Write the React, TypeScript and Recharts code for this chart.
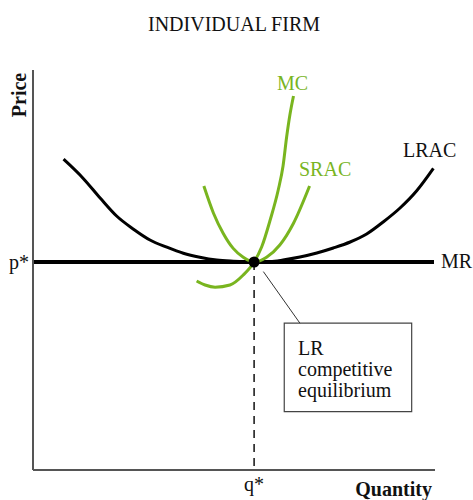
import React from "react";
import { LineChart, Line, XAxis, YAxis, ReferenceDot, ReferenceLine, ReferenceArea } from "recharts";

// Equilibrium (quantity, price)
const qStar = 55;
const pStar = 52;

const lracCurve = [
  { q: 7.6, p: 77.7 }, { q: 12.5, p: 72.9 }, { q: 16.7, p: 68 }, { q: 20.8, p: 63.5 },
  { q: 25, p: 60.2 }, { q: 29.1, p: 57.5 }, { q: 33.3, p: 55.7 }, { q: 37.4, p: 54.2 },
  { q: 41.5, p: 53.2 }, { q: 45.7, p: 52.5 }, { q: 49.8, p: 52.2 }, { q: 55, p: 52 },
  { q: 59, p: 52.1 }, { q: 62.2, p: 52.5 }, { q: 66.4, p: 53.25 }, { q: 70.6, p: 54.25 },
  { q: 74.7, p: 55.5 }, { q: 78.9, p: 57 }, { q: 83, p: 59 }, { q: 87.1, p: 62 },
  { q: 91.3, p: 65.5 }, { q: 95.4, p: 69.75 }, { q: 99.6, p: 75.4 },
];

const mcCurve = [
  { q: 40.7, p: 47.25 }, { q: 42.8, p: 46.25 }, { q: 45.3, p: 45.7 }, { q: 49, p: 46.25 },
  { q: 52.3, p: 48.75 }, { q: 55, p: 52 }, { q: 56.9, p: 55.8 }, { q: 59, p: 62.5 },
  { q: 61, p: 70 }, { q: 62.2, p: 76 }, { q: 63.1, p: 83.3 }, { q: 63.9, p: 88.75 },
  { q: 64.8, p: 93.5 },
];

const sracCurve = [
  { q: 42.5, p: 71 }, { q: 44.9, p: 64.2 }, { q: 47.3, p: 59.2 }, { q: 49.8, p: 55.4 },
  { q: 52.3, p: 53.2 }, { q: 55, p: 52 }, { q: 58.1, p: 53.2 }, { q: 61.4, p: 56.25 },
  { q: 64.8, p: 61.7 }, { q: 68.8, p: 71 },
];

const mrLine = [
  { q: 0, p: pStar },
  { q: 99.75, p: pStar },
];

const dropLine = [
  { q: qStar, p: pStar },
  { q: qStar, p: 0 },
];

const boxLines = ["LR", "competitive", "equilibrium"];
const titleText = "INDIVIDUAL FIRM";

const GREEN = "#79b51f";
const FONT = "Liberation Serif";

export default function App() {
  return (
    <div style={{ position: "absolute", left: 0, top: 0, width: 473, height: 500, background: "#fff" }}>
      <div style={{ position: "absolute", left: 0, top: 0 }}>
        <LineChart
          width={473}
          height={500}
          margin={{ top: 70, right: 38, bottom: 29, left: 32 }}
          style={{ fontFamily: FONT }}
        >
          <XAxis
            type="number"
            dataKey="q"
            domain={[0, 100]}
            ticks={[qStar]}
            tickFormatter={() => "q*"}
            tickLine={false}
            tickSize={0}
            tickMargin={7}
            height={1}
            axisLine={{ stroke: "#555", strokeWidth: 2 }}
            tick={{ fill: "#111", fontSize: 20, fontFamily: FONT }}
            allowDataOverflow
          />
          <YAxis
            type="number"
            dataKey="p"
            domain={[0, 100]}
            ticks={[pStar]}
            tickFormatter={() => "p*"}
            tickLine={false}
            tickSize={0}
            tickMargin={4}
            width={1}
            axisLine={{ stroke: "#555", strokeWidth: 2 }}
            tick={{ fill: "#111", fontSize: 20, fontFamily: FONT }}
            allowDataOverflow
          />
          <Line data={dropLine} dataKey="p" type="linear" stroke="#111" strokeWidth={1.5} strokeDasharray="8 6" dot={false} isAnimationActive={false} />
          <Line data={lracCurve} dataKey="p" type="monotone" stroke="#000" strokeWidth={3} dot={false} isAnimationActive={false} />
          <Line data={mrLine} dataKey="p" type="linear" stroke="#000" strokeWidth={4} dot={false} isAnimationActive={false} />
          <Line data={sracCurve} dataKey="p" type="monotone" stroke={GREEN} strokeWidth={3} dot={false} isAnimationActive={false} />
          <Line data={mcCurve} dataKey="p" type="monotone" stroke={GREEN} strokeWidth={3} dot={false} isAnimationActive={false} />
          <ReferenceLine segment={[{ x: 57.3, y: 49.6 }, { x: 66.4, y: 36.7 }]} stroke="#333" strokeWidth={1} />
          <ReferenceArea x1={62.5} x2={94.2} y1={14.6} y2={36.7} fill="#fff" fillOpacity={1} stroke="#444" strokeWidth={1.2} />
          <ReferenceDot x={qStar} y={pStar} r={5.5} fill="#000" stroke="none" />
        </LineChart>
      </div>
      <svg
        width={473}
        height={500}
        style={{ position: "absolute", left: 0, top: 0, pointerEvents: "none" }}
      >
        <text x={234} y={31} textAnchor="middle" fontSize={20} fontFamily={FONT} fill="#111">{titleText}</text>
        <text x={26} y={95} textAnchor="middle" fontSize={20} fontFamily={FONT} fontWeight="bold" fill="#111" transform="rotate(-90 26 95)">Price</text>
        <text x={432} y={496} textAnchor="end" fontSize={20} fontFamily={FONT} fontWeight="bold" fill="#111">Quantity</text>
        <text x={277} y={90} fontSize={20} fontFamily={FONT} fill={GREEN}>MC</text>
        <text x={299} y={176} fontSize={20} fontFamily={FONT} fill={GREEN}>SRAC</text>
        <text x={403} y={157} fontSize={20} fontFamily={FONT} fill="#111">LRAC</text>
        <text x={441} y={268} fontSize={20} fontFamily={FONT} fill="#111">MR</text>
        {boxLines.map((t, i) => (
          <text key={t} x={298} y={355 + i * 21} fontSize={20} fontFamily={FONT} fill="#111">{t}</text>
        ))}
      </svg>
    </div>
  );
}
